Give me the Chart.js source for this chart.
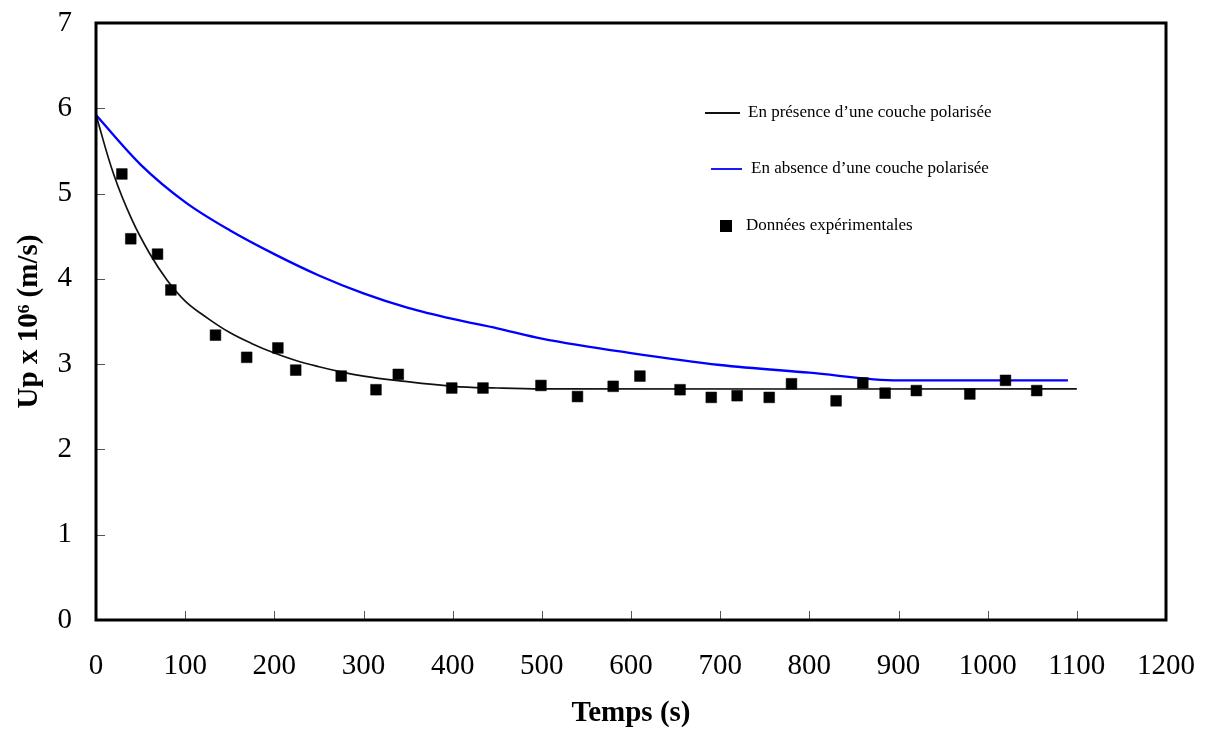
<!DOCTYPE html>
<html>
<head>
<meta charset="utf-8">
<script src="https://cdn.jsdelivr.net/npm/chart.js@4.4.1/dist/chart.umd.min.js"></script>
<style>
  body { margin: 0; background: #fff; }
  #wrap { width: 1207px; height: 737px; }
</style>
</head>
<body>
<div id="wrap"><canvas id="upChart" width="1207" height="737"></canvas></div>
<script>
// curve with polarised layer (black)
const blackTime = [0, 20, 40, 60, 80, 100, 125, 150, 175, 200, 225, 250, 275, 300, 336, 400, 450, 500, 1100];
const blackU = [5.92, 5.22, 4.70, 4.30, 3.98, 3.74, 3.54, 3.37, 3.24, 3.13, 3.04, 2.97, 2.91, 2.86, 2.81, 2.74, 2.72, 2.71, 2.71];

// curve without polarised layer (blue)
const blueTime = [0, 50, 100, 150, 200, 250, 300, 350, 400, 450, 500, 600, 700, 800, 900, 1090];
const blueU = [5.92, 5.34, 4.90, 4.57, 4.29, 4.04, 3.83, 3.66, 3.53, 3.42, 3.30, 3.13, 2.99, 2.90, 2.81, 2.81];

// experimental points
const expTime = [29, 39, 69, 84, 134, 169, 204, 224, 275, 314, 339, 399, 434, 499, 540, 580, 610, 655, 690, 719, 755, 780, 830, 860, 885, 920, 980, 1020, 1055];
const expU = [5.23, 4.47, 4.29, 3.87, 3.34, 3.08, 3.19, 2.93, 2.86, 2.70, 2.88, 2.72, 2.72, 2.75, 2.62, 2.74, 2.86, 2.70, 2.61, 2.63, 2.61, 2.77, 2.57, 2.78, 2.66, 2.69, 2.65, 2.81, 2.69];

const xTicks = [0, 100, 200, 300, 400, 500, 600, 700, 800, 900, 1000, 1100, 1200];
const yTicks = [0, 1, 2, 3, 4, 5, 6, 7];

const labelBlack = "En présence d\u2019une couche polarisée";
const labelBlue = "En absence d\u2019une couche polarisée";
const labelExp = "Données expérimentales";

const toPoints = (xs, ys) => xs.map((x, i) => ({ x: x, y: ys[i] }));

const serif = "'Liberation Serif', 'Times New Roman', serif";

// frame round the plot area + ticks pointing inwards
const framePlugin = {
    id: 'frame',
    afterDraw(chart) {
        const { ctx, chartArea: a, scales } = chart;
        ctx.save();
        ctx.strokeStyle = '#555';
        ctx.lineWidth = 1;
        ctx.beginPath();
        scales.x.ticks.forEach((t) => {
            const px = Math.round(scales.x.getPixelForValue(t.value)) + 0.5;
            ctx.moveTo(px, a.bottom);
            ctx.lineTo(px, a.bottom - 9);
        });
        scales.y.ticks.forEach((t) => {
            const py = Math.round(scales.y.getPixelForValue(t.value)) + 0.5;
            ctx.moveTo(a.left, py);
            ctx.lineTo(a.left + 9, py);
        });
        ctx.stroke();
        ctx.strokeStyle = '#000';
        ctx.lineWidth = 3;
        ctx.strokeRect(a.left, a.top, a.right - a.left, a.bottom - a.top);
        ctx.restore();
    }
};

// legend drawn inside the plot, like the original
const legendPlugin = {
    id: 'insideLegend',
    afterDraw(chart) {
        const { ctx } = chart;
        const rows = [
            { ds: 1, y: 113, x0: 705, x1: 740, tx: 748 },
            { ds: 2, y: 169, x0: 711, x1: 742, tx: 751 },
            { ds: 0, y: 226, x0: 720, x1: 732, tx: 746 }
        ];
        ctx.save();
        ctx.font = "17px " + serif;
        ctx.textBaseline = 'middle';
        ctx.textAlign = 'left';
        rows.forEach((r) => {
            const d = chart.data.datasets[r.ds];
            if (d.showLine === false) {
                ctx.fillStyle = d.backgroundColor;
                ctx.fillRect(r.x0, r.y - 6, r.x1 - r.x0, 12);
            } else {
                ctx.strokeStyle = d.borderColor;
                ctx.lineWidth = 1.8;
                ctx.beginPath();
                ctx.moveTo(r.x0, r.y);
                ctx.lineTo(r.x1, r.y);
                ctx.stroke();
            }
            ctx.fillStyle = '#000';
            ctx.fillText(d.label, r.tx, r.y);
        });
        ctx.restore();
    }
};

new Chart(document.getElementById('upChart'), {
    type: 'scatter',
    data: {
        datasets: [
            {
                label: labelExp,
                data: toPoints(expTime, expU),
                showLine: false,
                pointStyle: 'rect',
                pointRadius: 7.6,
                pointHoverRadius: 7.6,
                backgroundColor: '#000',
                borderColor: '#000',
                borderWidth: 0.5
            },
            {
                label: labelBlack,
                data: toPoints(blackTime, blackU),
                showLine: true,
                tension: 0.4,
                borderColor: '#111',
                borderWidth: 1.7,
                pointRadius: 0
            },
            {
                label: labelBlue,
                data: toPoints(blueTime, blueU),
                showLine: true,
                cubicInterpolationMode: 'monotone',
                borderColor: '#0000ff',
                borderWidth: 2.3,
                pointRadius: 0
            }
        ]
    },
    options: {
        responsive: false,
        devicePixelRatio: 1,
        animation: false,
        layout: { padding: { top: 23, right: 41, left: 0, bottom: 0 } },
        plugins: {
            legend: { display: false },
            tooltip: { enabled: false }
        },
        scales: {
            x: {
                type: 'linear',
                min: 0,
                max: 1200,
                afterBuildTicks: (scale) => { scale.ticks = xTicks.map((v) => ({ value: v })); },
                afterFit: (scale) => {
                    scale.height = 117;
                    scale.paddingLeft = 0;
                    scale.paddingRight = 0;
                },
                grid: { display: false, drawTicks: false },
                border: { display: false },
                ticks: {
                    padding: 29,
                    color: '#000',
                    maxRotation: 0,
                    callback: (v) => String(v),
                    font: { family: serif, size: 29 }
                },
                title: {
                    display: true,
                    text: 'Temps (s)',
                    color: '#000',
                    padding: { top: 0, bottom: 6 },
                    font: { family: serif, size: 29, weight: 'bold' }
                }
            },
            y: {
                min: 0,
                max: 7,
                afterBuildTicks: (scale) => { scale.ticks = yTicks.map((v) => ({ value: v })); },
                afterFit: (scale) => {
                    scale.width = 96;
                    scale.paddingTop = 0;
                    scale.paddingBottom = 0;
                },
                grid: { display: false, drawTicks: false },
                border: { display: false },
                ticks: {
                    padding: 24,
                    color: '#000',
                    callback: (v) => String(v),
                    font: { family: serif, size: 29 }
                },
                title: {
                    display: true,
                    text: 'Up x 10\u2076 (m/s)',
                    color: '#000',
                    padding: { top: 12, bottom: 0 },
                    font: { family: serif, size: 29, weight: 'bold' }
                }
            }
        }
    },
    plugins: [framePlugin, legendPlugin]
});
</script>
</body>
</html>
